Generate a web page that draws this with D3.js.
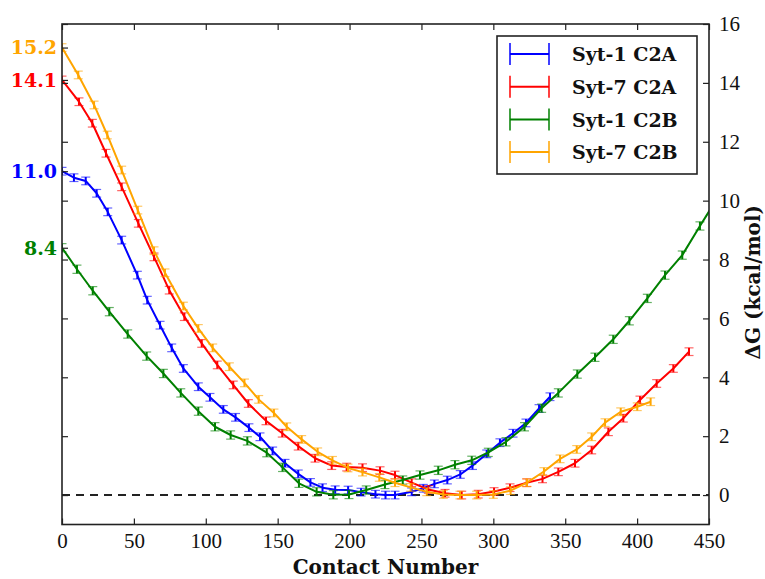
<!DOCTYPE html>
<html><head><meta charset="utf-8">
<script src="https://cdn.jsdelivr.net/npm/d3@7/dist/d3.min.js"></script>
<style>body{margin:0;background:#fff}</style>
</head><body><svg id="c" width="765" height="579"></svg>
<script>
// ---------------- data ----------------
const seriesNames  = ["Syt-1 C2A", "Syt-7 C2A", "Syt-1 C2B", "Syt-7 C2B"];
const seriesColors = ["#0000ff", "#ff0000", "#008000", "#ffa500"];

const syt1C2A_x = [0, 8.3, 16.5, 24.1, 31.8, 41.5, 52.4, 59.3, 68.2, 76.3, 84.4, 94.8, 102.9, 112.2, 120.7, 130, 137.7, 146.5, 155.1, 164.3, 172.8, 181.2, 190, 199, 208, 218, 225, 231.6, 243.2, 251.3, 259, 268, 277, 285.5, 295.4, 304.6, 313.7, 322.7, 331.8, 339.4];
const syt1C2A_y = [11.0, 10.78, 10.67, 10.25, 9.62, 8.66, 7.47, 6.62, 5.77, 5.0, 4.3, 3.68, 3.32, 2.91, 2.64, 2.29, 1.98, 1.5, 1.08, 0.72, 0.43, 0.25, 0.18, 0.17, 0.1, 0.03, 0.0, 0.0, 0.11, 0.23, 0.38, 0.51, 0.7, 1.0, 1.4, 1.78, 2.1, 2.45, 2.94, 3.34];

const syt7C2A_x = [0, 11.8, 21.1, 30.6, 41.5, 53.1, 64, 74.6, 85.1, 97.2, 108, 119.1, 129.6, 141.9, 153.2, 164.3, 176, 187.6, 198, 209, 221.2, 231.6, 243.2, 254.8, 266.4, 278, 289.5, 300.5, 311.6, 323.2, 334.2, 345.2, 356.8, 368.4, 380, 390.4, 402, 413.6, 425.2, 436.1];
const syt7C2A_y = [14.1, 13.36, 12.63, 11.61, 10.47, 9.23, 8.09, 6.96, 6.06, 5.15, 4.42, 3.74, 3.11, 2.52, 2.1, 1.66, 1.25, 1.0, 0.95, 0.93, 0.83, 0.68, 0.42, 0.19, 0.06, 0.0, 0.03, 0.12, 0.25, 0.42, 0.55, 0.79, 1.08, 1.53, 2.15, 2.61, 3.23, 3.79, 4.3, 4.87];

const syt1C2B_x = [0, 10.4, 21.4, 32.9, 45.7, 58.9, 70.5, 82.6, 94.8, 106.4, 117.3, 128.9, 142.4, 153.4, 164.8, 177.1, 188.7, 199.6, 211.6, 224.6, 237, 249, 261.7, 273.3, 285, 296.5, 308.8, 321.7, 333.6, 345.2, 358.4, 370.7, 383.4, 394.6, 407.1, 419.4, 431.4, 443.7, 456];
const syt1C2B_y = [8.4, 7.67, 6.94, 6.23, 5.47, 4.72, 4.13, 3.47, 2.85, 2.32, 2.04, 1.84, 1.44, 0.94, 0.4, 0.11, 0.01, 0.02, 0.17, 0.36, 0.51, 0.68, 0.84, 1.03, 1.18, 1.45, 1.81, 2.32, 2.95, 3.47, 4.11, 4.68, 5.29, 5.92, 6.68, 7.47, 8.15, 9.14, 10.1];

const syt7C2B_x = [0, 11.3, 22.3, 31.5, 41.5, 52.7, 64, 71.6, 84.4, 94.8, 104.8, 116.4, 126.9, 136.8, 147.4, 156.3, 166.7, 177.8, 188.1, 198.9, 209, 220.7, 231.6, 242.5, 253.7, 265.2, 276.8, 288.4, 300, 312, 323.4, 335.2, 346.4, 358, 368.4, 377.7, 388.6, 400.1, 409.4];
const syt7C2B_y = [15.2, 14.27, 13.25, 12.23, 11.04, 9.68, 8.3, 7.55, 6.42, 5.66, 5.0, 4.36, 3.81, 3.25, 2.79, 2.32, 1.89, 1.47, 1.18, 0.92, 0.78, 0.6, 0.42, 0.26, 0.11, 0.02, 0.0, 0.0, 0.02, 0.15, 0.42, 0.8, 1.23, 1.55, 1.98, 2.46, 2.83, 3.0, 3.17];

const seriesErr = [0.13, 0.13, 0.14, 0.13];

const xTicks = [0, 50, 100, 150, 200, 250, 300, 350, 400, 450];
const yTicks = [0, 2, 4, 6, 8, 10, 12, 14, 16];
const startLabels = ["15.2", "14.1", "11.0", "8.4"];
const startValues = [15.2, 14.1, 11.0, 8.4];
const startColors = ["#ffa500", "#ff0000", "#0000ff", "#008000"];
const xLabel = "Contact Number";
const yLabel = "ΔG (kcal/mol)";

// ---------------- chart ----------------
const svg = d3.select("#c");
const L = 62, R = 709, T = 24, B = 524.5;
const x = d3.scaleLinear().domain([0, 450]).range([L, R]);
const y = d3.scaleLinear().domain([-1, 16]).range([B, T]);

const serif = "'Liberation Serif', 'Times New Roman', serif";
const boldSerif = "'DejaVu Serif', serif";

svg.append("defs").append("clipPath").attr("id", "clip")
  .append("rect").attr("x", L).attr("y", T).attr("width", R - L).attr("height", B - T);

// zero dashed line
svg.append("line")
  .attr("x1", x(0)).attr("x2", x(450)).attr("y1", y(0)).attr("y2", y(0))
  .attr("stroke", "#222").attr("stroke-width", 2).attr("stroke-dasharray", "8,6");

const series = [
  {xs: syt1C2A_x, ys: syt1C2A_y},
  {xs: syt7C2A_x, ys: syt7C2A_y},
  {xs: syt1C2B_x, ys: syt1C2B_y},
  {xs: syt7C2B_x, ys: syt7C2B_y}
];

const line = d3.line().x(d => x(d[0])).y(d => y(d[1]));
const plot = svg.append("g").attr("clip-path", "url(#clip)");

series.forEach((s, i) => {
  const pts = s.xs.map((v, k) => [v, s.ys[k]]);
  const g = plot.append("g");
  const col = seriesColors[i];
  const e = seriesErr[i];
  g.append("path").attr("d", line(pts)).attr("fill", "none")
    .attr("stroke", col).attr("stroke-width", 2).attr("stroke-linejoin", "round");
  const eb = g.selectAll("g.eb").data(pts).join("g");
  eb.append("line").attr("x1", d => x(d[0])).attr("x2", d => x(d[0]))
    .attr("y1", d => y(d[1] - e)).attr("y2", d => y(d[1] + e))
    .attr("stroke", col).attr("stroke-width", 2);
  eb.append("line").attr("x1", d => x(d[0]) - 4.5).attr("x2", d => x(d[0]) + 4.5)
    .attr("y1", d => y(d[1] + e)).attr("y2", d => y(d[1] + e))
    .attr("stroke", col).attr("stroke-width", 1.2).attr("opacity", 0.6);
  eb.append("line").attr("x1", d => x(d[0]) - 4.5).attr("x2", d => x(d[0]) + 4.5)
    .attr("y1", d => y(d[1] - e)).attr("y2", d => y(d[1] - e))
    .attr("stroke", col).attr("stroke-width", 1.2).attr("opacity", 0.6);
});

// frame
svg.append("rect").attr("x", L).attr("y", T).attr("width", R - L).attr("height", B - T)
  .attr("fill", "none").attr("stroke", "#222").attr("stroke-width", 1.6);

// axes (ticks inward)
const xb = svg.append("g").attr("transform", `translate(0,${B})`)
  .call(d3.axisBottom(x).tickValues(xTicks).tickSize(-6).tickPadding(6).tickFormat(d3.format("d")));
const xt = svg.append("g").attr("transform", `translate(0,${T})`)
  .call(d3.axisTop(x).tickValues(xTicks).tickSize(-6).tickFormat(""));
const yr = svg.append("g").attr("transform", `translate(${R},0)`)
  .call(d3.axisRight(y).tickValues(yTicks).tickSize(-6).tickPadding(10).tickFormat(d3.format("d")));
const yl = svg.append("g").attr("transform", `translate(${L},0)`)
  .call(d3.axisLeft(y).tickValues(yTicks.concat(startValues)).tickSize(-6).tickFormat(""));
[xb, xt, yr, yl].forEach(a => {
  a.select(".domain").remove();
  a.selectAll(".tick line").attr("stroke", "#222").attr("stroke-width", 1.2);
  a.selectAll(".tick text").attr("font-family", serif).attr("font-size", 21).attr("fill", "#111");
});
xb.selectAll(".tick text").attr("dy", "0.85em");
yr.selectAll(".tick text").attr("dx", "0");

// coloured start labels
svg.append("g").selectAll("text").data(startLabels).join("text")
  .attr("x", 57).attr("y", (d, i) => y(startValues[i]))
  .attr("dy", "0.36em").attr("text-anchor", "end")
  .attr("font-family", boldSerif).attr("font-weight", "bold").attr("font-size", 19)
  .attr("fill", (d, i) => startColors[i]).text(d => d);

// axis titles
svg.append("text").attr("x", (L + R) / 2).attr("y", 574).attr("text-anchor", "middle")
  .attr("font-family", boldSerif).attr("font-weight", "bold").attr("font-size", 20)
  .attr("fill", "#111").text(xLabel);
svg.append("text").attr("transform", `translate(753,${(T + B) / 2 + 8}) rotate(-90)`)
  .attr("text-anchor", "middle").attr("dy", "0.35em")
  .attr("font-family", boldSerif).attr("font-weight", "bold").attr("font-size", 20)
  .attr("fill", "#111").text(yLabel);

// legend
const lg = svg.append("g");
lg.append("rect").attr("x", 497).attr("y", 36).attr("width", 200).attr("height", 138)
  .attr("fill", "#fff").attr("stroke", "#222").attr("stroke-width", 1.6);
seriesNames.forEach((n, i) => {
  const cy = 54 + i * 32.7;
  const col = seriesColors[i];
  lg.append("line").attr("x1", 510).attr("x2", 549).attr("y1", cy).attr("y2", cy)
    .attr("stroke", col).attr("stroke-width", 2);
  [510, 549].forEach(cx => lg.append("line").attr("x1", cx).attr("x2", cx)
    .attr("y1", cy - 11).attr("y2", cy + 11).attr("stroke", col).attr("stroke-width", 1.5));
  lg.append("text").attr("x", 572).attr("y", cy).attr("dy", "0.38em")
    .attr("font-family", boldSerif).attr("font-weight", "bold").attr("font-size", 19)
    .attr("fill", "#111").text(n);
});
</script></body></html>
